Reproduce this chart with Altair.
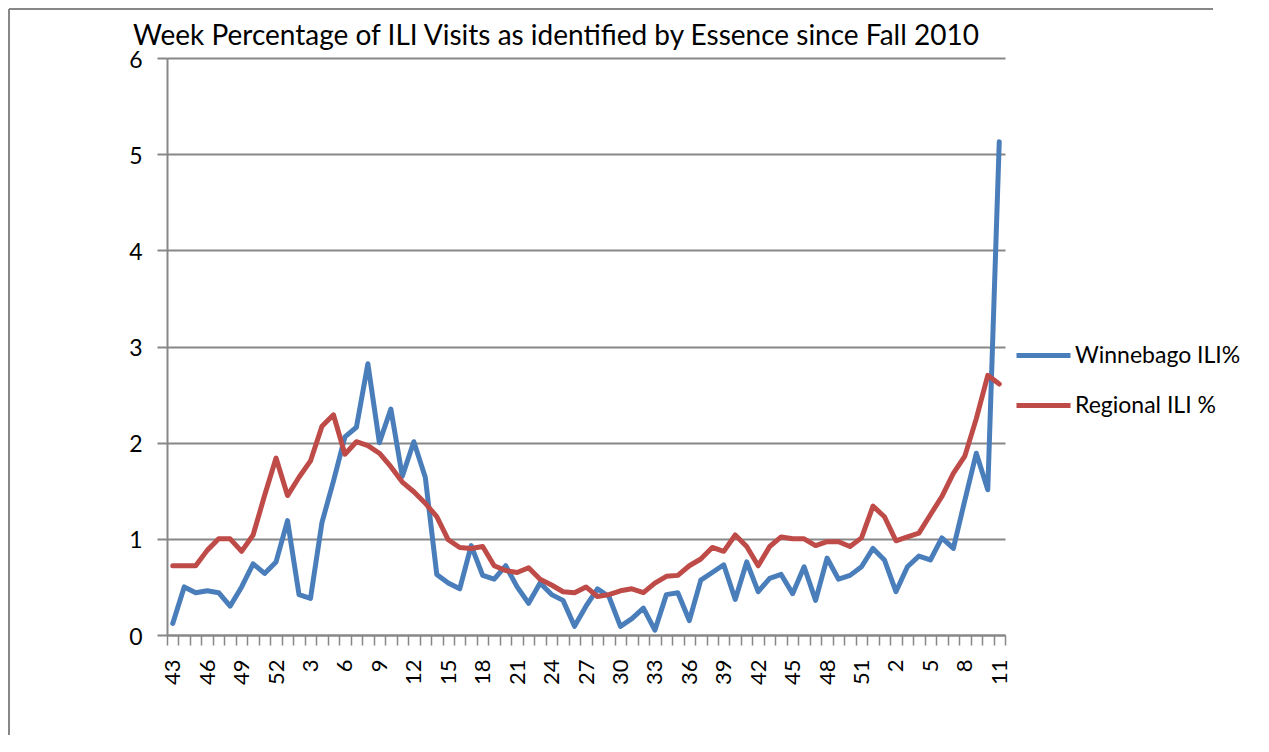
import json
import altair as alt
import pandas as pd

# Week numbers along the x axis (Fall 2010 week 43 through 2012 week 11)
weeks = [43, 44, 45, 46, 47, 48, 49, 50, 51, 52,
         1, 2, 3, 4, 5, 6, 7, 8, 9, 10, 11, 12, 13, 14, 15, 16, 17, 18, 19, 20,
         21, 22, 23, 24, 25, 26, 27, 28, 29, 30, 31, 32, 33, 34, 35, 36, 37, 38, 39, 40,
         41, 42, 43, 44, 45, 46, 47, 48, 49, 50, 51, 52,
         1, 2, 3, 4, 5, 6, 7, 8, 9, 10, 11]

winnebago = [0.12, 0.50, 0.44, 0.46, 0.44, 0.30, 0.50, 0.74, 0.64, 0.76,
             1.19, 0.42, 0.38, 1.17, 1.60, 2.06, 2.16, 2.82, 2.00, 2.35,
             1.65, 2.01, 1.64, 0.63, 0.54, 0.48, 0.93, 0.62, 0.58, 0.72,
             0.50, 0.33, 0.54, 0.42, 0.36, 0.09, 0.30, 0.48, 0.40, 0.09,
             0.17, 0.28, 0.05, 0.42, 0.44, 0.15, 0.57, 0.65, 0.73, 0.37,
             0.76, 0.45, 0.59, 0.63, 0.43, 0.71, 0.36, 0.80, 0.58, 0.62,
             0.71, 0.90, 0.78, 0.45, 0.71, 0.82, 0.78, 1.01, 0.90, 1.40,
             1.89, 1.51, 5.13]

regional = [0.72, 0.72, 0.72, 0.88, 1.00, 1.00, 0.87, 1.04, 1.45, 1.84,
            1.45, 1.64, 1.81, 2.17, 2.29, 1.88, 2.01, 1.97, 1.89, 1.75,
            1.59, 1.49, 1.37, 1.23, 0.99, 0.91, 0.90, 0.92, 0.72, 0.67,
            0.65, 0.70, 0.58, 0.52, 0.45, 0.44, 0.50, 0.40, 0.42, 0.46,
            0.48, 0.44, 0.54, 0.61, 0.62, 0.72, 0.79, 0.91, 0.87, 1.04,
            0.92, 0.72, 0.92, 1.02, 1.00, 1.00, 0.93, 0.97, 0.97, 0.92,
            1.01, 1.34, 1.23, 0.98, 1.02, 1.06, 1.25, 1.44, 1.68, 1.86,
            2.25, 2.70, 2.61]

series_names = ["Winnebago ILI%", "Regional ILI %"]
series_colors = ["#4A7EBB", "#BE4B48"]
title_text = "Week Percentage of ILI Visits as identified by Essence since Fall 2010"
label_every = 3

rows = []
for name, vals in zip(series_names, [winnebago, regional]):
    for i, v in enumerate(vals):
        rows.append({"idx": i, "week": weeks[i], "series": name, "value": v})
df = pd.DataFrame(rows)
title_df = pd.DataFrame({"t": [title_text]})

tick_labels = [str(w) if i % label_every == 0 else "" for i, w in enumerate(weeks)]
label_expr = json.dumps(tick_labels) + "[datum.value]"

W, H = 838, 577
PL, PT, PR, PB = 159, 50, 253, 100
GREY = "#878787"
FONT = "Lato"

lines = alt.Chart(df).mark_line(strokeWidth=5, strokeJoin="round", strokeCap="round").encode(
    x=alt.X("idx:O",
            scale=alt.Scale(type="band", paddingInner=0, paddingOuter=0),
            axis=alt.Axis(title=None, labelAngle=-90, labelExpr=label_expr,
                          tickBand="extent", tickSize=10, tickWidth=1.5, tickColor=GREY,
                          domainColor=GREY, domainWidth=2, labelPadding=14,
                          labelFontSize=22, labelFont=FONT, labelColor="black",
                          grid=False, labelOverlap=False)),
    y=alt.Y("value:Q",
            scale=alt.Scale(domain=[0, 6], nice=False, zero=True),
            axis=alt.Axis(title=None, values=[0, 1, 2, 3, 4, 5, 6], grid=True,
                          gridColor=GREY, gridWidth=2, domainColor=GREY, domainWidth=2,
                          tickColor=GREY, tickWidth=2, tickSize=10, labelPadding=15,
                          labelFontSize=23, labelFont=FONT, labelColor="black",
                          labelOffset=2)),
    color=alt.Color("series:N",
                    scale=alt.Scale(domain=series_names, range=series_colors),
                    legend=alt.Legend(title=None, orient="none", legendX=847, legendY=268,
                                      symbolType="stroke", symbolSize=2916,
                                      symbolStrokeWidth=5, labelFontSize=23,
                                      labelFont=FONT, labelColor="black", labelLimit=400,
                                      labelOffset=2, rowPadding=8)),
    order="idx:O",
)

title = alt.Chart(title_df).mark_text(font=FONT, fontSize=28, color="black",
                                      align="center", baseline="alphabetic").encode(
    text="t:N", x=alt.value(389), y=alt.value(-13))

# outer chart frame: left edge and top edge
frame_left = alt.Chart(title_df).mark_rule(color=GREY, strokeWidth=2).encode(
    x=alt.value(-158), y=alt.value(-49), y2=alt.value(H + PB))
frame_top = alt.Chart(title_df).mark_rule(color=GREY, strokeWidth=2).encode(
    x=alt.value(-158), x2=alt.value(W + PR - 45), y=alt.value(-49))

chart = alt.layer(frame_left, frame_top, title, lines).properties(
    width=W, height=H,
    autosize=alt.AutoSizeParams(type="none"),
    padding={"left": PL, "top": PT, "right": PR, "bottom": PB},
).configure_view(stroke=None)

chart.save("out.html", embed_options={"renderer": "svg", "actions": False})
